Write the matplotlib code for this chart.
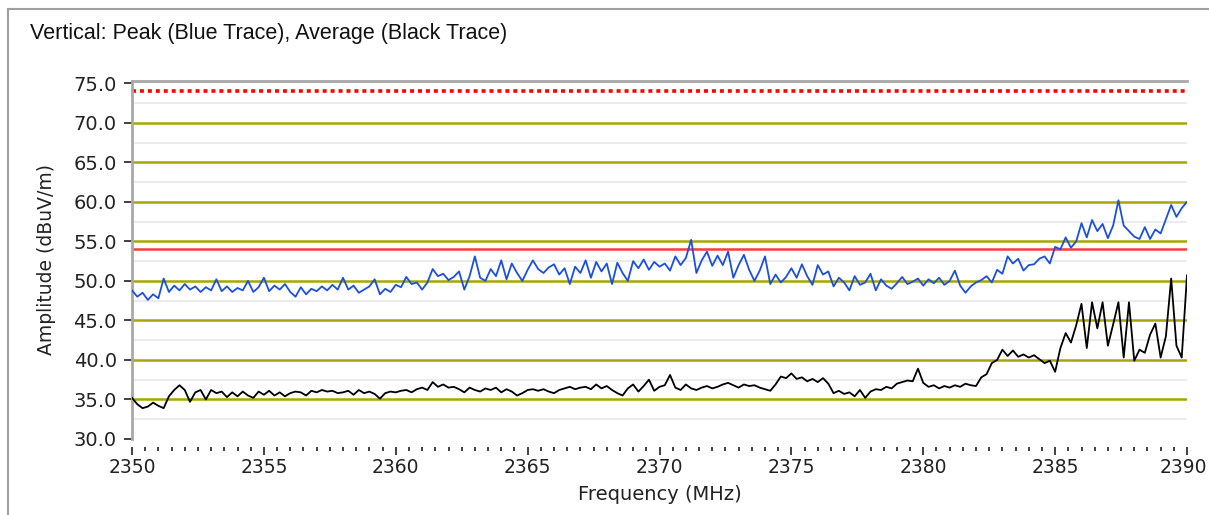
import numpy as np
import matplotlib
matplotlib.use('Agg')
import matplotlib.pyplot as plt
import matplotlib.transforms as mtransforms
from matplotlib.lines import Line2D
from matplotlib.ticker import MultipleLocator

freq_start, freq_stop = 2350, 2390

# peak trace (blue), one reading every 0.2 MHz
peak_dbuv = [
    48.8, 48.0, 48.5, 47.6, 48.3, 47.8,
    50.3, 48.6, 49.4, 48.8, 49.6,
    48.9, 49.3, 48.6, 49.2, 48.8,
    50.2, 48.7, 49.3, 48.6, 49.1,
    48.8, 50.0, 48.6, 49.2, 50.4,
    48.7, 49.4, 48.9, 49.6, 48.6,
    48.0, 49.2, 48.3, 49.0, 48.7,
    49.3, 48.8, 49.5, 48.9, 50.4,
    48.9, 49.4, 48.5, 48.9, 49.3,
    50.2, 48.3, 49.0, 48.6, 49.5,
    49.2, 50.5, 49.6, 49.8, 48.9,
    49.8, 51.5, 50.6, 50.9, 50.1,
    50.5, 51.2, 48.9, 50.6, 53.1,
    50.4, 50.0, 51.5, 50.6, 52.6,
    50.2, 52.2, 51.0, 50.0, 51.4,
    52.6, 51.5, 51.0, 51.7, 52.1,
    50.8, 51.6, 49.6, 51.8, 51.0,
    52.6, 50.4, 52.4, 51.2, 52.2,
    49.6, 52.3, 51.0, 50.0, 52.5,
    51.6, 52.7, 51.4, 52.4, 51.8,
    52.2, 51.3, 53.1, 52.0, 52.9,
    55.2, 51.0, 52.6, 53.7, 51.9,
    53.2, 52.0, 53.7, 50.4, 52.0,
    53.3, 51.4, 50.0, 51.3, 53.1,
    49.6, 50.8, 49.8, 50.5, 51.6,
    50.4, 52.1, 50.6, 49.5, 52.0,
    50.8, 51.2, 49.3, 50.4, 49.8,
    48.8, 50.6, 49.5, 49.8, 50.9,
    48.8, 50.2, 49.4, 49.0, 49.7,
    50.5, 49.6, 49.9, 50.3, 49.4,
    50.2, 49.7, 50.4, 49.5, 50.0,
    51.3, 49.4, 48.5, 49.3, 49.8,
    50.1, 50.6, 49.8, 51.4, 50.9,
    53.1, 52.2, 52.8, 51.3, 52.0,
    52.1, 52.8, 53.1, 52.2, 54.3,
    54.0, 55.5, 54.2, 55.0, 57.3,
    55.5, 57.7, 56.3, 57.2, 55.4,
    57.0, 60.2, 57.0, 56.3, 55.6,
    55.3, 56.8, 55.3, 56.5, 56.0,
    57.8, 59.6, 58.1, 59.2, 60.0,
]

# average trace (black), same frequency grid
avg_dbuv = [
    35.2, 34.4, 33.9, 34.1, 34.6, 34.2,
    33.9, 35.4, 36.2, 36.8, 36.2,
    34.7, 35.9, 36.2, 35.0, 36.2,
    35.8, 36.0, 35.3, 35.9, 35.4,
    36.0, 35.5, 35.2, 36.0, 35.6,
    36.1, 35.5, 35.9, 35.4, 35.8,
    36.0, 35.9, 35.5, 36.1, 35.9,
    36.2, 36.0, 36.1, 35.8, 35.9,
    36.1, 35.6, 36.2, 35.8, 36.0,
    35.7, 35.1, 35.8, 36.0, 35.9,
    36.1, 36.2, 35.9, 36.3, 36.5,
    36.2, 37.2, 36.6, 36.9, 36.5,
    36.6, 36.3, 35.9, 36.5, 36.2,
    36.0, 36.4, 36.2, 36.5, 35.9,
    36.3, 36.0, 35.5, 35.8, 36.2,
    36.3, 36.1, 36.3, 36.0, 35.8,
    36.2, 36.4, 36.6, 36.3, 36.5,
    36.6, 36.3, 36.9, 36.4, 36.7,
    36.2, 35.8, 35.5, 36.4, 36.9,
    36.0, 36.7, 37.5, 36.1, 36.6,
    36.8, 38.1, 36.5, 36.2, 36.9,
    36.4, 36.2, 36.5, 36.7, 36.4,
    36.6, 36.9, 37.1, 36.8, 36.5,
    36.9, 36.7, 36.8, 36.5, 36.3,
    36.1, 36.9, 37.9, 37.7, 38.3,
    37.6, 37.8, 37.3, 37.6, 37.2,
    37.7, 37.0, 35.8, 36.1, 35.7,
    35.9, 35.4, 36.2, 35.2, 36.0,
    36.3, 36.2, 36.6, 36.4, 37.0,
    37.2, 37.4, 37.3, 38.9, 37.1,
    36.6, 36.8, 36.4, 36.7, 36.5,
    36.8, 36.6, 37.0, 36.8, 36.7,
    37.8, 38.2, 39.6, 40.0, 41.3,
    40.5, 41.2, 40.4, 40.7, 40.3,
    40.6, 40.1, 39.6, 39.9, 38.5,
    41.5, 43.4, 42.2, 44.4, 47.1,
    41.5, 47.3, 44.0, 47.3, 41.8,
    44.5, 47.3, 40.3, 47.3, 39.9,
    41.3, 40.9, 43.2, 44.6, 40.3,
    43.0, 50.3, 41.8, 40.3, 50.7,
]

freq_mhz = np.linspace(freq_start, freq_stop, len(peak_dbuv))

peak_limit = 74.0
avg_limit = 54.0
y_ticks = [30, 35, 40, 45, 50, 55, 60, 65, 70, 75]
x_ticks = [2350, 2355, 2360, 2365, 2370, 2375, 2380, 2385, 2390]

W, H = 1209, 515
fig = plt.figure(figsize=(W / 100, H / 100), dpi=100)
fig.patch.set_facecolor('white')

# outer panel border
fig.add_artist(Line2D([8 / W, 8 / W], [0, 1 - 9 / H], color='#a0a0a0', lw=1.5))
fig.add_artist(Line2D([8 / W, 1], [1 - 9 / H, 1 - 9 / H], color='#a0a0a0', lw=1.5))

fig.text(30 / W, 1 - 33 / H, 'Vertical: Peak (Blue Trace), Average (Black Trace)',
         fontsize=15.5, family='Liberation Sans', va='center', ha='left', color='#111111')

ax = fig.add_axes([132 / W, 1 - 439 / H, (1187 - 132) / W, (439 - 80.5) / H])
ax.set_xlim(freq_start, freq_stop)
ax.set_ylim(30, 75.35)

# minor (light) and major (olive) horizontal grid lines
for y in np.arange(32.5, 75, 5):
    ax.axhline(y, color='#ececec', lw=1.5, zorder=0)
for y in y_ticks[1:-1]:
    ax.axhline(y, color='#a6a600', lw=1.8, zorder=1)

ax.axhline(avg_limit, color='#ff3b3b', lw=1.8, zorder=2)
ax.axhline(peak_limit, color='#ff0000', lw=2.6, dashes=(1.1, 1.1), zorder=2)

ax.plot(freq_mhz, peak_dbuv, color='#1a4fe0', lw=1.3, zorder=3)
ax.plot(freq_mhz, avg_dbuv, color='black', lw=1.3, zorder=3)

for side in ['right', 'bottom']:
    ax.spines[side].set_visible(False)
for side in ['left', 'top']:
    ax.spines[side].set_color('#a8a8a8')
    ax.spines[side].set_linewidth(2)
ax.spines['bottom'].set_position(('outward', 6))

ax.set_yticks(y_ticks)
ax.set_yticklabels([f'{v:.1f}' for v in y_ticks])
ax.set_xticks(x_ticks)
ax.set_xticklabels([str(v) for v in x_ticks])
ax.xaxis.set_minor_locator(MultipleLocator(0.5))

ax.tick_params(axis='y', direction='out', length=6, width=1.3, color='#333333',
               pad=5, labelsize=14, labelcolor='#222222')
ax.tick_params(axis='x', which='major', direction='out', length=6, width=1.3,
               color='#333333', pad=2, labelsize=13.5, labelcolor='#222222')
ax.tick_params(axis='x', which='minor', direction='out', length=3, width=1.3,
               color='#333333')

# last frequency label sits flush with the right edge, as in the original
last = ax.get_xticklabels()[-1]
last.set_transform(last.get_transform() +
                   mtransforms.ScaledTranslation(-4 / 100, 0, fig.dpi_scale_trans))

ax.set_ylabel('Amplitude (dBuV/m)', fontsize=13.5, color='#222222')
ax.yaxis.set_label_coords(-(132 - 47) / (1187 - 132), 0.5)
ax.set_xlabel('Frequency (MHz)', fontsize=14, color='#222222')
ax.xaxis.set_label_coords(0.5, -(495 - 439) / (439 - 80.5))
ax.xaxis.label.set_va('center')
ax.yaxis.label.set_va('center')

fig.savefig('out.png', dpi=100, facecolor='white')
